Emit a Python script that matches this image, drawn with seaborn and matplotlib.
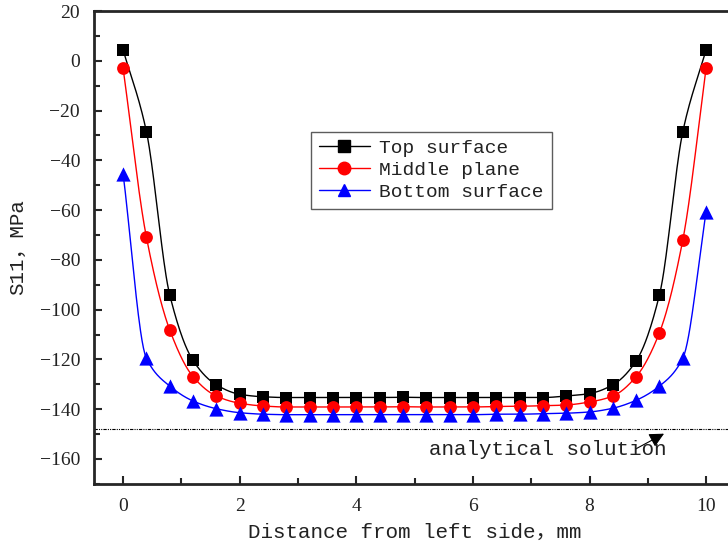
import numpy as np
import pandas as pd
import seaborn as sns
import matplotlib
matplotlib.use('Agg')
import matplotlib.pyplot as plt
from matplotlib.lines import Line2D
from matplotlib.ticker import MultipleLocator

sns.set_style('ticks')
plt.rcParams['font.family'] = ['Liberation Serif', 'DejaVu Serif']

# data (x in mm, S11 in MPa)
x_mm = [0.0, 0.4, 0.8, 1.2, 1.6, 2.0, 2.4, 2.8, 3.2, 3.6, 4.0, 4.4, 4.8,
        5.2, 5.6, 6.0, 6.4, 6.8, 7.2, 7.6, 8.0, 8.4, 8.8, 9.2, 9.6, 10.0]
top_surface = [4.5, -28.4, -94.0, -120.4, -130.2, -134.0, -135.0, -135.3, -135.3,
               -135.3, -135.3, -135.3, -135.2, -135.3, -135.3, -135.3, -135.3,
               -135.3, -135.3, -134.7, -133.7, -130.2, -120.6, -94.0, -28.5, 4.5]
middle_plane = [-2.9, -70.8, -108.1, -126.9, -134.7, -137.6, -138.7, -139.1, -139.1,
                -139.1, -139.1, -139.1, -139.0, -139.1, -139.1, -139.1, -138.9,
                -138.8, -138.6, -138.3, -137.1, -134.7, -126.9, -109.2, -72.0, -2.9]
bottom_surface = [-45.3, -119.5, -130.7, -136.7, -139.8, -141.4, -142.0, -142.2, -142.2,
                  -142.2, -142.2, -142.2, -142.2, -142.2, -142.2, -142.2, -142.0,
                  -142.0, -141.8, -141.6, -141.1, -139.6, -136.4, -130.7, -119.5, -60.7]
series_names = ['Top surface', 'Middle plane', 'Bottom surface']
analytical = -148.0


def pchip(x, y, xs):
    # monotone cubic connector, like the smooth line in the original
    x = np.asarray(x, float)
    y = np.asarray(y, float)
    h = np.diff(x)
    d = np.diff(y) / h
    m = np.zeros_like(y)
    for k in range(1, len(x) - 1):
        if d[k - 1] * d[k] > 0:
            w1 = 2 * h[k] + h[k - 1]
            w2 = h[k] + 2 * h[k - 1]
            m[k] = (w1 + w2) / (w1 / d[k - 1] + w2 / d[k])
    m[0] = d[0]
    m[-1] = d[-1]
    idx = np.clip(np.searchsorted(x, xs) - 1, 0, len(h) - 1)
    t = (xs - x[idx]) / h[idx]
    h00 = 2 * t**3 - 3 * t**2 + 1
    h10 = t**3 - 2 * t**2 + t
    h01 = -2 * t**3 + 3 * t**2
    h11 = t**3 - t**2
    return (h00 * y[idx] + h10 * h[idx] * m[idx]
            + h01 * y[idx + 1] + h11 * h[idx] * m[idx + 1])


colors = ['black', 'red', 'blue']
markers = ['s', 'o', '^']
msizes = [80, 85, 105]
values = [top_surface, middle_plane, bottom_surface]

fig = plt.figure(figsize=(7.28, 5.53), dpi=100)
ax = fig.add_axes([0.129, 0.125, 0.881, 0.855])

xs = np.linspace(0, 10, 801)
for name, vals, c, mk, ms in zip(series_names, values, colors, markers, msizes):
    sns.lineplot(x=xs, y=pchip(x_mm, vals, xs), color=c, lw=1.0, ax=ax)
    pts = pd.DataFrame({'x': x_mm, 'y': vals})
    sns.scatterplot(data=pts, x='x', y='y', marker=mk, s=ms, color=c,
                    edgecolor=c, linewidth=0, ax=ax, zorder=3)

ax.axhline(analytical, color='black', lw=0.8, ls=(0, (3, 1, 1, 1, 1, 1)))

mono = ['Liberation Mono', 'Noto Sans CJK SC']
ax.annotate('', xy=(9.32, -149.3), xytext=(8.75, -156.5),
            arrowprops=dict(arrowstyle='-|>', color='black', lw=0.8,
                            mutation_scale=22))
ax.text(5.25, -156.3, 'analytical solution', family=mono, fontsize=15,
        color='#222222', va='center', ha='left')

ax.set_xlim(-0.5, 10.5)
ax.set_ylim(-170, 20)
ax.xaxis.set_major_locator(MultipleLocator(2))
ax.xaxis.set_minor_locator(MultipleLocator(1))
ax.yaxis.set_major_locator(MultipleLocator(20))
ax.yaxis.set_minor_locator(MultipleLocator(10))
ax.tick_params(which='both', direction='in', width=1.5, labelsize=14,
               labelcolor='#222222', pad=10)
ax.tick_params(which='major', length=6)
ax.tick_params(which='minor', length=4)
for sp in ax.spines.values():
    sp.set_linewidth(2)
ax.spines['right'].set_visible(False)

ax.set_xlabel('Distance from left side，mm', family=mono, fontsize=15,
              color='#222222', labelpad=6)
ax.set_ylabel('S11，MPa', family=mono, fontsize=15, color='#222222', labelpad=9)

handles = [Line2D([0], [0], color=c, lw=1.0, marker=mk, markersize=9)
           for c, mk in zip(colors, markers)]
leg = ax.legend(handles, series_names, loc='upper left',
                bbox_to_anchor=(0.324, 0.765), prop={'family': mono, 'size': 14},
                frameon=True, fancybox=False, edgecolor='#333333',
                handlelength=2.6, borderpad=0.4, labelspacing=0.22,
                handletextpad=0.5)
leg.get_frame().set_linewidth(1.0)
for t in leg.get_texts():
    t.set_color('#222222')

fig.savefig('out.png', dpi=100)
